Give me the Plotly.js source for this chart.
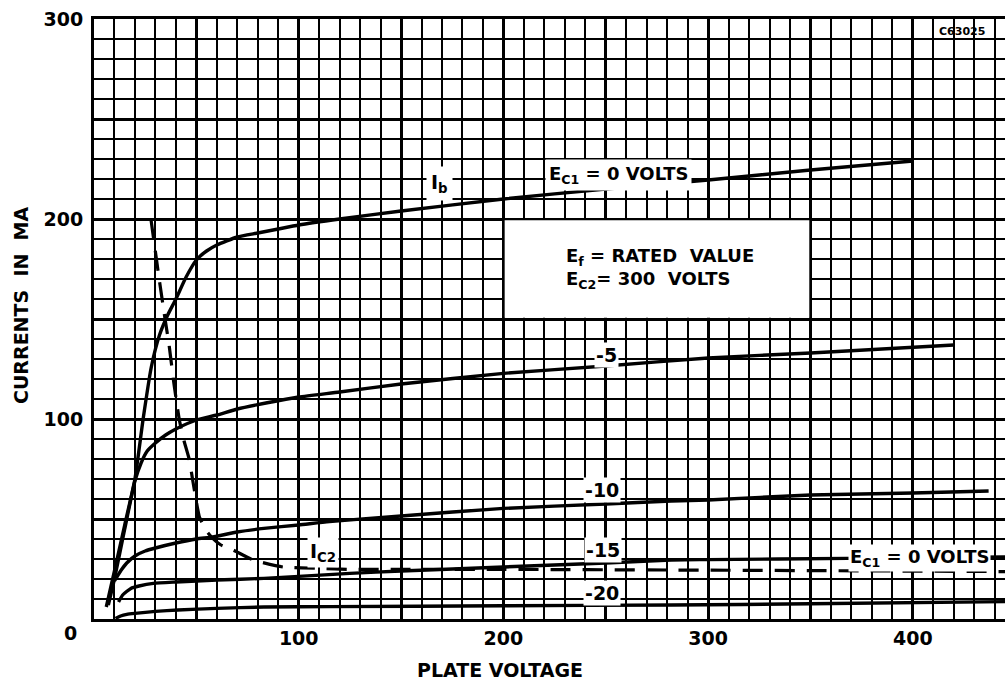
<!DOCTYPE html>
<html>
<head>
<meta charset="utf-8">
<script src="https://cdn.plot.ly/plotly-3.0.1.min.js"></script>
<style>html,body{margin:0;padding:0;background:#fff;}#chart{width:1005px;height:684px;}</style>
</head>
<body>
<div id="chart"></div>
<script>
// Plate voltage (V) and currents (mA)
const vIb0 = [6, 10, 15, 20, 24, 28, 32, 36, 40, 45, 50, 55, 60, 70, 80, 90, 100, 120, 150, 200, 250, 300, 350, 400];
const iIb0 = [6, 24, 47, 70, 100, 126, 142, 152, 160, 171, 179.5, 184, 187, 191, 193, 195, 197, 200, 204, 210, 215, 219.5, 224.5, 229];

const vIb5 = [7, 10, 15, 20, 23, 26, 30, 35, 40, 50, 60, 70, 84, 100, 120, 150, 200, 250, 300, 350, 420];
const iIb5 = [7, 20, 45, 69, 78, 84, 88, 92, 95, 99.5, 102, 105, 108, 111, 113.5, 117.5, 122.8, 126.5, 130.5, 133, 137];

const vIb10 = [10, 13, 16, 20, 25, 30, 40, 50, 58, 70, 83, 100, 115, 150, 200, 250, 282, 300, 350, 400, 437];
const iIb10 = [19, 24, 28, 31.5, 34, 35.5, 38, 40, 41, 43.5, 45.3, 47, 48.7, 51.5, 55.3, 57.5, 59, 59.5, 62, 63, 64];

const vIb15 = [12, 14, 18, 22, 29, 40, 60, 83, 100, 125, 150, 200, 250, 282, 300, 368, 400, 445];
const iIb15 = [8.5, 12, 15.3, 16.5, 17.8, 18.5, 19.5, 20.3, 21.3, 22.8, 24, 26, 28, 29.5, 29.7, 30.3, 30.6, 31];

const vIb20 = [10.5, 13, 16, 20, 30, 41, 60, 83, 115, 200, 282, 350, 445];
const iIb20 = [0.3, 1.5, 2.3, 2.8, 3.8, 4.5, 5.3, 6, 6.2, 6.6, 7, 7.6, 8.7];

const vIc2 = [27.8, 31.9, 34.3, 36.8, 39, 41.7, 44, 46.6, 48.2, 51.5, 55, 58, 62, 68, 77.7, 92.3, 110, 125, 150, 200, 282, 350, 445];
const iIc2 = [200, 169.5, 152.8, 136, 118, 99.5, 89, 79.5, 69.5, 51, 44, 40.3, 37, 34.5, 29.5, 26, 25.3, 24.8, 24.8, 24.8, 24.5, 24.2, 23.7];

const xTickVals = [100, 200, 300, 400];
const xTickText = ['100', '200', '300', '400'];
const yTickVals = [100, 200, 300];
const yTickText = ['100', '200', '300'];

const FONT = 'DejaVu Sans, Arial, sans-serif';
const BOLD = 'bold';
const solid = {color: '#000', width: 3.4, shape: 'spline', smoothing: 0.5};

function tr(x, y, line) {
  return {x: x, y: y, type: 'scatter', mode: 'lines', line: line, hoverinfo: 'skip', showlegend: false};
}

const data = [
  // empty trace that only carries the heavy 50-unit graph-paper grid axes
  {x: [], y: [], type: 'scatter', mode: 'lines', xaxis: 'x2', yaxis: 'y2', hoverinfo: 'skip', showlegend: false},
  tr(vIb0, iIb0, solid),
  tr(vIb5, iIb5, solid),
  tr(vIb10, iIb10, solid),
  tr(vIb15, iIb15, solid),
  tr(vIb20, iIb20, solid),
  tr(vIc2, iIc2, {color: '#000', width: 3.2, dash: '20px,12px', shape: 'spline', smoothing: 0.4})
];

function f(size) { return {family: FONT, size: size, color: '#000', weight: BOLD}; }

function ann(text, x, y, opts) {
  return Object.assign({
    text: text, x: x, y: y, xref: 'x', yref: 'y', showarrow: false,
    xanchor: 'center', yanchor: 'middle',
    font: f(19),
    bgcolor: '#fff', borderpad: 2
  }, opts || {});
}

const annotations = [
  ann('I<sub>b</sub>', 169, 218, {borderpad: 4}),
  ann('E<sub>C1</sub> = 0 VOLTS', 256, 222, {borderpad: 3, font: f(18)}),
  ann('E<sub>f</sub> = RATED  VALUE', 229, 181, {xanchor: 'left', bgcolor: 'rgba(0,0,0,0)', font: f(18)}),
  ann('E<sub>C2</sub>= 300  VOLTS', 229, 169.5, {xanchor: 'left', bgcolor: 'rgba(0,0,0,0)', font: f(18)}),
  ann('-5', 250.4, 132, {borderpad: 1}),
  ann('-10', 248, 64.5, {borderpad: 1}),
  ann('-15', 248.7, 34.5, {borderpad: 1}),
  ann('-20', 248, 12.8, {borderpad: 1}),
  ann('I<sub>C2</sub>', 111.8, 33.5, {borderpad: 2}),
  ann('E<sub>C1</sub> = 0 VOLTS', 403, 30.5, {borderpad: 1, font: f(18)}),
  ann('C63025', 424, 293.6, {font: f(11), bgcolor: 'rgba(0,0,0,0)'}),
  {text: '0', xref: 'paper', yref: 'paper', x: (70 - 94) / 911, y: -14 / 600,
   xanchor: 'center', yanchor: 'middle', showarrow: false, font: f(19)},
  {text: 'PLATE VOLTAGE', xref: 'paper', yref: 'paper', x: (500 - 94) / 911, y: -51 / 600,
   xanchor: 'center', yanchor: 'middle', showarrow: false, font: f(19)},
  {text: 'CURRENTS  IN  MA', xref: 'paper', yref: 'paper', x: (21 - 94) / 911, y: (619 - 306) / 600,
   xanchor: 'center', yanchor: 'middle', textangle: -90, showarrow: false, font: f(19)}
];

const axCommon = {zeroline: false, ticks: '', fixedrange: true};

const layout = {
  width: 1005, height: 684,
  margin: {l: 94, r: 0, t: 19, b: 65},
  paper_bgcolor: '#fff', plot_bgcolor: '#fff',
  showlegend: false,
  xaxis: Object.assign({}, axCommon, {
    range: [0, 445], tickmode: 'array', tickvals: xTickVals, ticktext: xTickText,
    showgrid: false,
    showline: true, linecolor: '#000', linewidth: 3, mirror: true,
    tickfont: f(19),
    minor: {dtick: 10, tick0: 0, showgrid: true, gridcolor: '#000', gridwidth: 2, ticks: ''}
  }),
  yaxis: Object.assign({}, axCommon, {
    range: [0, 300], tickmode: 'array', tickvals: yTickVals, ticktext: yTickText,
    showgrid: false,
    showline: true, linecolor: '#000', linewidth: 3,
    ticklabelstandoff: 4,
    tickfont: f(19),
    minor: {dtick: 10, tick0: 0, showgrid: true, gridcolor: '#000', gridwidth: 2, ticks: ''}
  }),
  xaxis2: Object.assign({}, axCommon, {
    overlaying: 'x', anchor: 'y2', range: [0, 445], tickmode: 'linear', tick0: 0, dtick: 50,
    showgrid: true, gridcolor: '#000', gridwidth: 3, showticklabels: false, showline: false
  }),
  yaxis2: Object.assign({}, axCommon, {
    overlaying: 'y', anchor: 'x2', range: [0, 300], tickmode: 'linear', tick0: 0, dtick: 50,
    showgrid: true, gridcolor: '#000', gridwidth: 3, showticklabels: false, showline: false
  }),
  shapes: [
    {type: 'rect', xref: 'x', yref: 'y', x0: 200.6, x1: 349.4, y0: 150.6, y1: 199.4,
     fillcolor: '#fff', line: {width: 0}, layer: 'above'}
  ],
  annotations: annotations
};

Plotly.newPlot('chart', data, layout, {displayModeBar: false});
</script>
</body>
</html>
